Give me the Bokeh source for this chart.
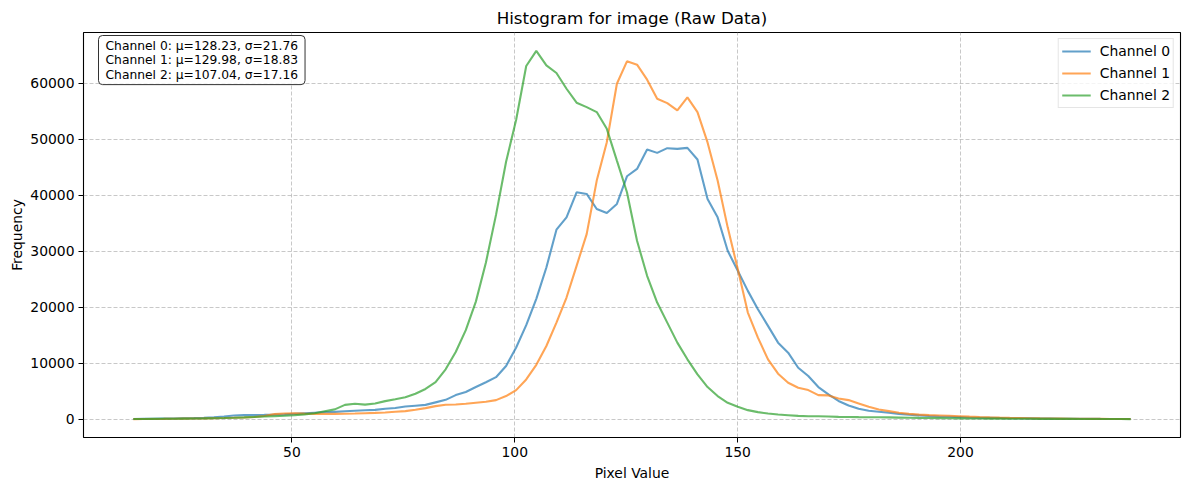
import numpy as np
from bokeh.plotting import figure
from bokeh.models import Range1d, Label, Legend
from bokeh.embed import file_html
from bokeh.resources import INLINE

# ---------------- data ----------------
bin_edges = np.linspace(13.3, 239.3, 101)
pixel_values = (bin_edges[:-1] + bin_edges[1:]) / 2

channel_0 = [20, 40, 60, 90, 120, 150, 180, 230, 320, 480,
             650, 720, 740, 760, 800, 850, 950, 1050, 1150, 1250,
             1300, 1400, 1500, 1580, 1650, 1850, 2000, 2250, 2400, 2550,
             3000, 3450, 4300, 4850, 5750, 6600, 7500, 9500, 12800, 16800,
             21500, 27100, 33850, 36060, 40540, 40240, 37550, 36840, 38450, 43400,
             44710, 48180, 47580, 48420, 48300, 48480, 46390, 39350, 36060, 30090,
             26510, 22920, 19640, 16660, 13670, 11880, 9190, 7700, 5730, 4420,
             3250, 2450, 1850, 1490, 1310, 1130, 950, 800, 680, 560,
             480, 420, 360, 300, 260, 230, 200, 170, 150, 130,
             110, 95, 80, 70, 60, 50, 40, 35, 30, 25]

channel_1 = [10, 20, 35, 50, 70, 90, 110, 130, 160, 200,
             250, 300, 380, 550, 900, 1020, 1030, 980, 950, 940,
             950, 970, 1000, 1060, 1120, 1190, 1310, 1430, 1670, 1970,
             2330, 2570, 2630, 2750, 2930, 3100, 3400, 4120, 5190, 7100,
             9700, 13070, 17250, 21730, 27400, 33070, 42630, 49490, 59940, 63940,
             63340, 60660, 57250, 56470, 55160, 57500, 54870, 49450, 42630, 34270,
             26810, 19040, 14560, 10690, 8120, 6510, 5610, 5190, 4300, 4240,
             3700, 3400, 2810, 2210, 1730, 1430, 1130, 950, 800, 720,
             660, 600, 530, 450, 380, 320, 270, 230, 200, 170,
             140, 120, 100, 80, 65, 50, 40, 30, 20, 15]

channel_2 = [20, 30, 45, 60, 80, 100, 120, 140, 170, 210,
             260, 320, 390, 460, 530, 600, 700, 850, 1050, 1400,
             1750, 2550, 2750, 2600, 2800, 3220, 3550, 3900, 4550, 5400,
             6600, 8900, 12000, 15900, 21000, 28000, 36500, 46000, 53500, 63100,
             65800, 63220, 61850, 59040, 56540, 55760, 54870, 51880, 46200, 40540,
             31880, 25610, 20830, 17250, 13670, 10690, 8000, 5730, 4120, 2920,
             2210, 1610, 1250, 1010, 830, 710, 590, 530, 530, 470,
             410, 380, 360, 350, 330, 310, 280, 250, 220, 200,
             180, 160, 140, 120, 110, 100, 90, 80, 70, 60,
             55, 50, 45, 40, 35, 30, 25, 20, 15, 10]

channel_names = ["Channel 0", "Channel 1", "Channel 2"]
channel_means = ["128.23", "129.98", "107.04"]
channel_stds = ["21.76", "18.83", "17.16"]
colors = ["#1f77b4", "#ff7f0e", "#2ca02c"]

x_ticks = [50, 100, 150, 200]
y_ticks = [0, 10000, 20000, 30000, 40000, 50000, 60000]

# ---------------- figure ----------------
FONT = "DejaVu Sans"
W, H = 1189, 490
left, right, top, bottom = 83, 9, 32, 53

xmin, xmax = float(pixel_values.min()), float(pixel_values.max())
xpad = 0.05 * (xmax - xmin)
all_y = channel_0 + channel_1 + channel_2
ymin, ymax = min(all_y), max(all_y)
ypad = 0.05 * (ymax - ymin)

p = figure(width=W, height=H, output_backend="svg", toolbar_location=None,
           x_range=Range1d(xmin - xpad, xmax + xpad),
           y_range=Range1d(ymin - ypad, ymax + ypad),
           min_border_left=left, min_border_right=right,
           min_border_top=top, min_border_bottom=bottom,
           title="Histogram for image (Raw Data)")

p.title.align = "center"
p.title.text_font = FONT
p.title.text_font_size = "16.7px"
p.title.text_font_style = "normal"
p.title.text_color = "black"

p.outline_line_color = "black"
p.outline_line_width = 1.1
p.background_fill_color = "white"
p.border_fill_color = "white"

renderers = []
for ys, name, c in zip([channel_0, channel_1, channel_2], channel_names, colors):
    r = p.line(pixel_values, ys, line_color=c, line_width=2.1, line_alpha=0.7)
    renderers.append((name, [r]))

legend = Legend(items=renderers, location="top_right")
legend.label_text_font = FONT
legend.label_text_font_size = "13.9px"
legend.label_text_color = "black"
legend.border_line_color = "#cccccc"
legend.border_line_width = 1
legend.background_fill_alpha = 0.8
legend.glyph_width = 29
legend.glyph_height = 18
legend.label_height = 18
legend.spacing = 4
legend.padding = 3
legend.margin = 6
legend.label_standoff = 9
p.add_layout(legend)

# axes
for ax in (p.xaxis, p.yaxis):
    ax.axis_line_color = None
    ax.major_tick_line_color = "black"
    ax.major_tick_out = 5
    ax.major_tick_in = 0
    ax.minor_tick_line_color = None
    ax.major_label_text_font = FONT
    ax.major_label_text_font_size = "13.9px"
    ax.major_label_text_color = "black"
    ax.axis_label_text_font = FONT
    ax.axis_label_text_font_size = "13.9px"
    ax.axis_label_text_font_style = "normal"
    ax.axis_label_text_color = "black"
    ax.major_label_standoff = 4

p.xaxis.ticker = x_ticks
p.yaxis.ticker = y_ticks
p.xaxis.axis_label = "Pixel Value"
p.yaxis.axis_label = "Frequency"
p.yaxis.formatter.use_scientific = False
p.xaxis.axis_label_standoff = 5
p.yaxis.axis_label_standoff = 2

p.grid.grid_line_color = "#b0b0b0"
p.grid.grid_line_alpha = 0.7
p.grid.grid_line_dash = "4 2"
p.grid.grid_line_width = 1

# stats box
stats_text = "\n".join(f"{n}: \u03bc={m}, \u03c3={s}" for n, m, s in
                       zip(channel_names, channel_means, channel_stds))
frame_h = H - top - bottom
lbl = Label(x=15, y=frame_h - 3, x_units="screen", y_units="screen",
            text=stats_text, text_font=FONT, text_font_size="12.3px",
            text_align="left", text_baseline="top", text_color="black",
            text_line_height=1.04,
            background_fill_color="white", background_fill_alpha=0.8,
            border_line_color="#333333", border_line_width=1,
            padding=(7, 3), border_radius=4)
p.add_layout(lbl)

open("out.html", "w").write(file_html(p, INLINE))
